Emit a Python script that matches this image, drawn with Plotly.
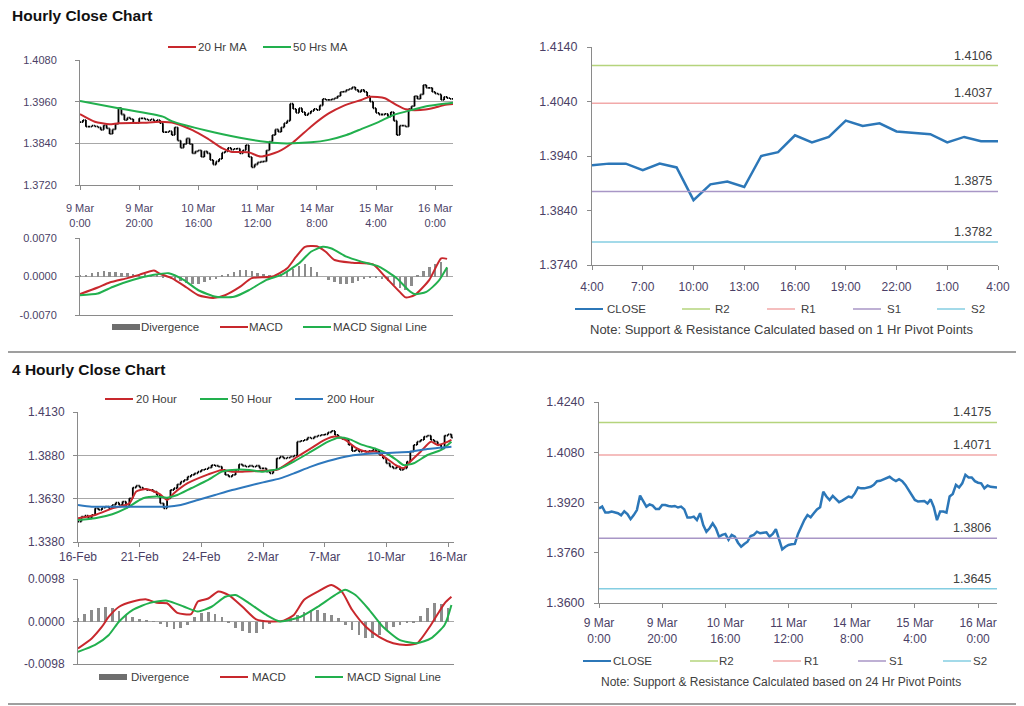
import plotly.graph_objects as go

# ---------------- data ----------------
# Hourly bars, 9 Mar 0:00 -> 16 Mar ~6:00 (one value per trading hour)
h_tick_labels = ["9 Mar<br>0:00", "9 Mar<br>20:00", "10 Mar<br>16:00", "11 Mar<br>12:00",
                 "14 Mar<br>8:00", "15 Mar<br>4:00", "16 Mar<br>0:00"]
h_tick_every = 20
close_1h = [
    1.3901, 1.3907, 1.3888, 1.3888, 1.3891, 1.3889, 1.3886, 1.3879, 1.3892, 1.3883,
    1.3867, 1.3880, 1.3896, 1.3942, 1.3923, 1.3907, 1.3914, 1.3910, 1.3899, 1.3899,
    1.3912, 1.3912, 1.3909, 1.3907, 1.3909, 1.3904, 1.3907, 1.3898, 1.3872, 1.3872,
    1.3875, 1.3864, 1.3886, 1.3848, 1.3827, 1.3838, 1.3854, 1.3838, 1.3811, 1.3817,
    1.3820, 1.3801, 1.3817, 1.3811, 1.3792, 1.3779, 1.3788, 1.3795, 1.3813, 1.3817,
    1.3827, 1.3822, 1.3824, 1.3825, 1.3811, 1.3820, 1.3835, 1.3801, 1.3771, 1.3779,
    1.3785, 1.3787,
    1.3788, 1.3820, 1.3845, 1.3864, 1.3880, 1.3873, 1.3886, 1.3898, 1.3905, 1.3954,
    1.3939, 1.3928, 1.3941, 1.3930, 1.3921, 1.3926, 1.3933, 1.3939, 1.3936, 1.3949,
    1.3968, 1.3965, 1.3965, 1.3967, 1.3970, 1.3976, 1.3988, 1.3989, 1.3994, 1.3997,
    1.4002, 1.3994, 1.3988, 1.3994, 1.3988, 1.3976, 1.3960, 1.3941, 1.3928, 1.3923,
    1.3923, 1.3925, 1.3917, 1.3930, 1.3905, 1.3864, 1.3891, 1.3891, 1.3888, 1.3939,
    1.3947, 1.3976, 1.3968, 1.3981, 1.4008, 1.4000, 1.4000, 1.3988, 1.3983, 1.3981,
    1.3965, 1.3974, 1.3970, 1.3968, 1.3968,
]
ma20_1h_idx = [0, 5, 10, 13, 21, 27, 32, 38, 43, 48, 51, 57, 61, 67, 72, 78, 84, 89, 95, 98,
               103, 107, 110, 115, 119, 123, 126]
ma20_1h = [1.3924, 1.3902, 1.3895, 1.3898, 1.3899, 1.3902, 1.3898, 1.3878, 1.3854, 1.3826,
           1.3816, 1.3814, 1.3802, 1.3816, 1.3843, 1.3888, 1.3926, 1.3948, 1.3965, 1.3974,
           1.3970, 1.3950, 1.3938, 1.3936, 1.3941, 1.3950, 1.3953]
ma50_1h_idx = [0, 13, 28, 31, 43, 54, 61, 68, 78, 84, 90, 95, 101, 106, 112, 118, 124, 126]
ma50_1h = [1.3962, 1.3941, 1.3917, 1.3904, 1.3876, 1.3856, 1.3846, 1.3840, 1.3843, 1.3850,
           1.3864, 1.3881, 1.3902, 1.3922, 1.3936, 1.3948, 1.3955, 1.3957]

macd_1h_idx = [0, 6, 10, 16, 20, 25, 27, 31, 36, 40, 45, 49, 54, 58, 65, 70, 73, 76, 80, 83,
               86, 92, 99, 103, 108, 110, 113, 118, 122, 124]
macd_1h = [-0.0032, -0.0020, -0.0011, -0.0003, 0.0003, 0.0011, 0.0005, -0.0003, -0.0020, -0.0034,
           -0.0039, -0.0034, -0.0019, -0.0003, 0.0000, 0.0015, 0.0036, 0.0054, 0.0055, 0.0045,
           0.0030, 0.0025, 0.0022, 0.0000, -0.0028, -0.0038, -0.0034, -0.0006, 0.0033, 0.0032]
signal_1h_idx = [0, 6, 11, 18, 25, 30, 35, 40, 46, 52, 57, 63, 68, 74, 78, 82, 85, 90, 95, 101,
                 107, 111, 113, 117, 121, 124]
signal_1h = [-0.0034, -0.0031, -0.0019, -0.0006, 0.0003, 0.0006, -0.0006, -0.0025, -0.0037, -0.0037,
             -0.0025, -0.0006, 0.0003, 0.0024, 0.0045, 0.0054, 0.0051, 0.0036, 0.0027, 0.0018,
             -0.0003, -0.0025, -0.0032, -0.0028, -0.0009, 0.0017]
div_1h_idx = list(range(0, 125, 2))
div_1h = [0.0001, 0.0003, 0.0006, 0.0009, 0.0010, 0.0009, 0.0008, 0.0007, 0.0006, 0.0005,
          0.0004, 0.0004, 0.0003, 0.0001, -0.0001, -0.0003, -0.0006, -0.0009, -0.0012, -0.0014,
          -0.0013, -0.0010, -0.0007, -0.0004, 0.0001, 0.0005, 0.0009, 0.0011, 0.0012, 0.0010,
          0.0007, 0.0004, 0.0002, 0.0002, 0.0004, 0.0009, 0.0014, 0.0019, 0.0022, 0.0017,
          0.0008, 0.0000, -0.0006, -0.0010, -0.0013, -0.0014, -0.0012, -0.0008, -0.0005, -0.0003,
          -0.0002, -0.0004, -0.0009, -0.0015, -0.0020, -0.0024, -0.0017, 0.0002, 0.0010, 0.0018,
          0.0023, 0.0026, 0.0016]

# Last 24 hours close with 1 Hr pivots
hours_24 = ["4:00", "5:00", "6:00", "7:00", "8:00", "9:00", "10:00", "11:00", "12:00", "13:00",
            "14:00", "15:00", "16:00", "17:00", "18:00", "19:00", "20:00", "21:00", "22:00",
            "23:00", "0:00", "1:00", "2:00", "3:00", "4:00"]
close_24 = [1.3923, 1.3926, 1.3926, 1.3914, 1.3926, 1.3919, 1.3859, 1.3888, 1.3893, 1.3883,
            1.3940, 1.3947, 1.3978, 1.3965, 1.3975, 1.4005, 1.3995, 1.4000, 1.3985, 1.3983,
            1.3980, 1.3965, 1.3975, 1.3967, 1.3967]
pivot_names = ["R2", "R1", "S1", "S2"]
pivots_1h = [1.4106, 1.4037, 1.3875, 1.3782]
pivots_24h = [1.4175, 1.4071, 1.3806, 1.3645]

# 4 hourly bars, 16 Feb -> 16 Mar
h4_tick_labels = ["16-Feb", "21-Feb", "24-Feb", "2-Mar", "7-Mar", "10-Mar", "16-Mar"]
h4_tick_every = 18
close_4h = [
    1.3498, 1.3526, 1.3532, 1.3517, 1.3536, 1.3574, 1.3565, 1.3578, 1.3584, 1.3574,
    1.3594, 1.3607, 1.3594, 1.3613, 1.3584, 1.3632, 1.3694, 1.3705, 1.3694, 1.3686,
    1.3680, 1.3680, 1.3671, 1.3651, 1.3603, 1.3574, 1.3632, 1.3680, 1.3690, 1.3713,
    1.3728, 1.3738, 1.3757, 1.3767, 1.3776, 1.3786, 1.3796, 1.3801, 1.3809, 1.3824,
    1.3820, 1.3815, 1.3796, 1.3767, 1.3757, 1.3767, 1.3796, 1.3828, 1.3820, 1.3815,
    1.3820, 1.3815, 1.3820, 1.3805,
    1.3805, 1.3786, 1.3776, 1.3796, 1.3863, 1.3872, 1.3863, 1.3867, 1.3872, 1.3878,
    1.3959, 1.3963, 1.3969, 1.3982, 1.3978, 1.3988, 1.3994, 1.3998, 1.4001, 1.4013,
    1.4021, 1.3998, 1.3982, 1.3975, 1.3969, 1.3940, 1.3905, 1.3911, 1.3901, 1.3905,
    1.3901, 1.3905, 1.3911, 1.3905, 1.3882, 1.3863, 1.3834, 1.3815, 1.3805, 1.3815,
    1.3796, 1.3805, 1.3844, 1.3901, 1.3940, 1.3959, 1.3969, 1.3988, 1.3994, 1.3969,
    1.3959, 1.3940, 1.3921, 1.3994, 1.4001, 1.3982,
]
ma20_4h_idx = [0, 5, 10, 15, 17, 20, 24, 26, 28, 32, 38, 42, 45, 48, 53, 58, 62, 64, 68, 72,
               75, 78, 81, 84, 87, 90, 93, 95, 97, 100, 103, 105, 108, 109]
ma20_4h = [1.3517, 1.3536, 1.3574, 1.3603, 1.3671, 1.3686, 1.3655, 1.3622, 1.3661, 1.3719,
           1.3770, 1.3796, 1.3786, 1.3786, 1.3790, 1.3796, 1.3844, 1.3872, 1.3921, 1.3969,
           1.3988, 1.3969, 1.3925, 1.3901, 1.3901, 1.3863, 1.3820, 1.3805, 1.3844, 1.3901,
           1.3959, 1.3940, 1.3959, 1.3969]
ma50_4h_idx = [0, 5, 10, 14, 19, 23, 26, 29, 33, 38, 42, 45, 50, 54, 59, 63, 68, 73, 76, 79,
               83, 87, 90, 93, 95, 98, 102, 106, 109]
ma50_4h = [1.3507, 1.3517, 1.3540, 1.3574, 1.3632, 1.3642, 1.3636, 1.3651, 1.3690, 1.3738,
           1.3786, 1.3796, 1.3796, 1.3786, 1.3805, 1.3844, 1.3901, 1.3959, 1.3982, 1.3975,
           1.3940, 1.3917, 1.3892, 1.3853, 1.3824, 1.3834, 1.3882, 1.3911, 1.3959]
ma200_4h_idx = [0, 4, 9, 18, 26, 30, 35, 40, 45, 50, 54, 59, 63, 68, 73, 78, 83, 88, 93, 97,
                102, 109]
ma200_4h = [1.3594, 1.3584, 1.3584, 1.3584, 1.3584, 1.3594, 1.3622, 1.3651, 1.3680, 1.3705,
            1.3724, 1.3747, 1.3776, 1.3815, 1.3847, 1.3872, 1.3886, 1.3892, 1.3896, 1.3901,
            1.3917, 1.3930]

macd_4h_idx = [0, 4, 7, 9, 12, 16, 20, 23, 26, 29, 33, 35, 38, 41, 44, 48, 52, 56, 60, 63,
               66, 70, 74, 77, 80, 84, 88, 92, 96, 99, 103, 107, 109]
macd_4h = [-0.0062, -0.0039, -0.0012, 0.0011, 0.0034, 0.0046, 0.0051, 0.0043, 0.0042, 0.0020,
           0.0017, 0.0046, 0.0053, 0.0069, 0.0061, 0.0034, 0.0005, 0.0000, 0.0002, 0.0015,
           0.0050, 0.0069, 0.0084, 0.0069, 0.0027, -0.0012, -0.0036, -0.0050, -0.0054, -0.0050,
           -0.0008, 0.0042, 0.0057]
signal_4h_idx = [0, 5, 9, 12, 16, 21, 26, 31, 35, 39, 43, 46, 50, 55, 59, 65, 70, 75, 78, 81,
                 85, 89, 94, 99, 103, 107, 109]
signal_4h = [-0.0070, -0.0054, -0.0031, 0.0000, 0.0027, 0.0043, 0.0048, 0.0034, 0.0023, 0.0034,
             0.0057, 0.0061, 0.0042, 0.0015, 0.0000, 0.0011, 0.0034, 0.0061, 0.0073, 0.0061,
             0.0027, -0.0012, -0.0043, -0.0050, -0.0039, -0.0008, 0.0038]
div_4h_idx = list(range(0, 109, 2))
div_4h = [0.0008, 0.0018, 0.0026, 0.0032, 0.0034, 0.0030, 0.0024, 0.0016, 0.0010, 0.0006,
          0.0004, 0.0001, -0.0006, -0.0012, -0.0018, -0.0016, -0.0008, 0.0010, 0.0020, 0.0023,
          0.0018, 0.0010, -0.0004, -0.0014, -0.0022, -0.0027, -0.0026, -0.0018, -0.0006, 0.0001,
          0.0004, 0.0008, 0.0015, 0.0022, 0.0027, 0.0026, 0.0020, 0.0015, 0.0008, -0.0008,
          -0.0020, -0.0032, -0.0038, -0.0039, -0.0030, -0.0020, -0.0012, -0.0008, -0.0004, -0.0002,
          0.0012, 0.0030, 0.0042, 0.0040, 0.0030]

# ---------------- styling ----------------
PAGE_OFF = 8            # the page body margin that the figure sits inside
FW, FH = 1016, 698      # figure size so that it ends at the window edge
FONT = "Liberation Sans, Arial, sans-serif"
NARROW = "Liberation Sans Narrow, Arial Narrow, Liberation Sans, Arial, sans-serif"
TICK_COLOR = "#4b3f66"
AXIS_COLOR = "#8a8a8a"
GRID_COLOR = "#a8a8a8"
TEXT_COLOR = "#404040"
RED = "#c8282d"
GREEN = "#22b04e"
BLUE = "#2e78bd"
CLOSE_BLUE = "#2c77b8"
DIV_GRAY = "#8c8c8c"
PIVOT_COLORS = ["#b5d47c", "#f2a9a9", "#a896c6", "#84cee2"]


def px_x(p):
    return (p - PAGE_OFF) / FW


def px_y(p):
    return 1 - (p - PAGE_OFF) / FH


def xd(a, b):
    return [px_x(a), px_x(b)]


def yd(top, bottom):
    return [px_y(bottom), px_y(top)]


def fmt(v):
    return f"{v:.4f}"


def ohlc_from_close(c):
    o = [c[0]] + c[:-1]
    hi = [max(a, b) for a, b in zip(o, c)]
    lo = [min(a, b) for a, b in zip(o, c)]
    return o, hi, lo


fig = go.Figure()
legend_items = {k: [] for k in range(1, 7)}


def add_line(panel, x, y, name, color, width=2, smooth=True):
    line = dict(color=color, width=width)
    if smooth:
        line.update(shape="spline", smoothing=0.6)
    ax = "" if panel == 1 else str(panel)
    fig.add_trace(go.Scatter(x=x, y=y, mode="lines", name=name, line=line,
                             xaxis="x" + ax, yaxis="y" + ax, showlegend=False))
    legend_items[panel].append((name, color, "line", width))


def add_div(panel, x, y, name="Divergence"):
    fig.add_trace(go.Bar(x=x, y=y, name=name, marker_color=DIV_GRAY, marker_line_width=0,
                         width=0.8, xaxis="x" + str(panel), yaxis="y" + str(panel),
                         showlegend=False))
    legend_items[panel].append((name, DIV_GRAY, "bar", 6))


def add_ohlc(panel, close, name):
    ax = "" if panel == 1 else str(panel)
    o, hi, lo = ohlc_from_close(close)
    fig.add_trace(go.Ohlc(x=list(range(len(close))), open=o, high=hi, low=lo, close=close,
                          xaxis="x" + ax, yaxis="y" + ax,
                          increasing_line_color="black", decreasing_line_color="black",
                          line_width=1.8, tickwidth=0.4, showlegend=False, name=name))


# ---- Panel 1: hourly bars + MAs ----
x1 = list(range(len(close_1h)))
add_ohlc(1, close_1h, "Hourly")
add_line(1, ma20_1h_idx, ma20_1h, "20 Hr MA", RED)
add_line(1, ma50_1h_idx, ma50_1h, "50 Hrs MA", GREEN)

# ---- Panel 2: hourly MACD ----
add_div(2, div_1h_idx, div_1h)
add_line(2, macd_1h_idx, macd_1h, "MACD", RED)
add_line(2, signal_1h_idx, signal_1h, "MACD Signal Line", GREEN)

# ---- Panel 3: 24h close + 1Hr pivots ----
x3 = list(range(len(close_24)))
add_line(3, x3, close_24, "CLOSE", CLOSE_BLUE, width=2.5, smooth=False)
for nm, v, col in zip(pivot_names, pivots_1h, PIVOT_COLORS):
    add_line(3, [x3[0], x3[-1]], [v, v], nm, col, width=1.5, smooth=False)
    fig.add_annotation(x=x3[-1], y=v, xref="x3", yref="y3", text=fmt(v), showarrow=False,
                       xanchor="right", yanchor="bottom", xshift=-4, yshift=1,
                       font=dict(size=12.5, color=TEXT_COLOR, family=FONT))

# ---- Panel 4: 4 hourly bars + MAs ----
add_ohlc(4, close_4h, "4 Hourly")
add_line(4, ma20_4h_idx, ma20_4h, "20 Hour", RED)
add_line(4, ma50_4h_idx, ma50_4h, "50 Hour", GREEN)
add_line(4, ma200_4h_idx, ma200_4h, "200 Hour", BLUE)

# ---- Panel 5: 4 hourly MACD ----
add_div(5, div_4h_idx, div_4h)
add_line(5, macd_4h_idx, macd_4h, "MACD", RED)
add_line(5, signal_4h_idx, signal_4h, "MACD Signal Line", GREEN)

# ---- Panel 6: hourly close + 24Hr pivots ----
add_line(6, x1, close_1h, "CLOSE", CLOSE_BLUE, width=2.5, smooth=False)
for nm, v, col in zip(pivot_names, pivots_24h, PIVOT_COLORS):
    add_line(6, [x1[0], x1[-1]], [v, v], nm, col, width=1.5, smooth=False)
    fig.add_annotation(x=x1[-1], y=v, xref="x6", yref="y6", text=fmt(v), showarrow=False,
                       xanchor="right", yanchor="bottom", xshift=-4, yshift=1,
                       font=dict(size=12.5, color=TEXT_COLOR, family=FONT))

# ---------------- axes ----------------
narrow_ticks = dict(size=11, color=TICK_COLOR, family=NARROW)
wide_ticks = dict(size=12, color=TICK_COLOR, family=FONT)
base = dict(showline=True, linecolor=AXIS_COLOR, linewidth=1,
            ticks="outside", ticklen=4, tickcolor=AXIS_COLOR, zeroline=False,
            showgrid=False, fixedrange=True, automargin=False)


def yticks(lo, hi, step):
    n = int(round((hi - lo) / step))
    vals = [round(lo + i * step, 4) for i in range(n + 1)]
    return vals, [fmt(v) for v in vals]


def xaxis_cfg(domain, rng, anchor, tickvals=None, ticktext=None, labels=True,
              font=wide_ticks, standoff=0):
    d = dict(base, domain=domain, range=rng, anchor=anchor, tickfont=font)
    if labels:
        d.update(tickmode="array", tickvals=tickvals, ticktext=ticktext,
                 ticklabelstandoff=standoff)
    else:
        d.update(showticklabels=False, ticks="")
    d["rangeslider"] = dict(visible=False)
    return d


def yaxis_cfg(domain, lo, hi, step, anchor, grid, font=wide_ticks, standoff=0):
    tv, tt = yticks(lo, hi, step)
    return dict(base, domain=domain, range=[lo, hi], anchor=anchor, tickmode="array",
                tickvals=tv, ticktext=tt, showgrid=grid, gridcolor=GRID_COLOR, gridwidth=1,
                tickfont=font, ticklabelstandoff=standoff)


h_tv = list(range(0, len(close_1h), h_tick_every))
h4_tv = [i * h4_tick_every for i in range(len(h4_tick_labels))]
x3_tv = list(range(0, len(hours_24), 3))

layout_axes = dict(
    xaxis=xaxis_cfg(xd(80, 453), [0, len(close_1h) - 1], "y", h_tv, h_tick_labels,
                    font=narrow_ticks, standoff=9),
    yaxis=yaxis_cfg(yd(60, 185), 1.3720, 1.4080, 0.0120, "x", True,
                    font=narrow_ticks, standoff=16),
    xaxis2=xaxis_cfg(xd(80, 453), [0, len(close_1h) - 1], "y2", labels=False),
    yaxis2=yaxis_cfg(yd(238, 315), -0.0070, 0.0070, 0.0070, "x2", True,
                     font=narrow_ticks, standoff=16),
    xaxis3=xaxis_cfg(xd(592, 998), [0, len(close_24) - 1], "y3", x3_tv,
                     [hours_24[i] for i in x3_tv], standoff=7),
    yaxis3=yaxis_cfg(yd(47, 265), 1.3740, 1.4140, 0.0100, "x3", False,
                     font=dict(wide_ticks, size=12.5), standoff=7),
    xaxis4=xaxis_cfg(xd(78, 454), [0, 109.75], "y4", h4_tv, h4_tick_labels),
    yaxis4=yaxis_cfg(yd(412, 542), 1.3380, 1.4130, 0.0250, "x4", True, standoff=6),
    xaxis5=xaxis_cfg(xd(78, 454), [0, 109.75], "y5", labels=False),
    yaxis5=yaxis_cfg(yd(579, 664), -0.0098, 0.0098, 0.0098, "x5", True, standoff=6),
    xaxis6=xaxis_cfg(xd(599, 997), [0, len(close_1h) - 1], "y6", h_tv, h_tick_labels,
                     standoff=5),
    yaxis6=yaxis_cfg(yd(402, 603), 1.3600, 1.4240, 0.0160, "x6", False,
                     font=dict(wide_ticks, size=12.5), standoff=7),
)

fig.update_layout(
    width=FW, height=FH, autosize=False,
    margin=dict(l=0, r=0, t=0, b=0, pad=0),
    paper_bgcolor="white", plot_bgcolor="white",
    font=dict(family=FONT, color=TEXT_COLOR),
    bargap=0, showlegend=False, hovermode=False,
    **layout_axes,
)

# ---------------- legends (drawn as keys + text) ----------------
# per panel: legend row y (px) and, per item, symbol start x (px) and text start x (px)
legend_rows = {
    1: (47, [(168, 198), (263, 293)]),
    2: (327, [(112, 141), (220, 249), (303, 333)]),
    3: (309, [(575, 607), (682, 715), (767, 801), (853, 887), (937, 971)]),
    4: (399, [(105, 136), (200, 231), (295, 327)]),
    5: (677, [(99, 131), (220, 252), (315, 347)]),
    6: (661, [(583, 613), (690, 719), (773, 804), (858, 889), (943, 973)]),
}
KEY_LEN = 28
for panel, (ypx, slots) in legend_rows.items():
    yy = px_y(ypx)
    for (name, color, kind, width), (xs, xt) in zip(legend_items[panel], slots):
        if kind == "bar":
            fig.add_shape(type="rect", xref="paper", yref="paper",
                          x0=px_x(xs), x1=px_x(xs + KEY_LEN),
                          y0=yy - 3 / FH, y1=yy + 3 / FH,
                          fillcolor="#6e6e6e", line=dict(width=0))
        else:
            fig.add_shape(type="line", xref="paper", yref="paper",
                          x0=px_x(xs), x1=px_x(xs + KEY_LEN), y0=yy, y1=yy,
                          line=dict(color=color, width=min(width, 2)))
        fig.add_annotation(x=px_x(xt - 2), y=yy, xref="paper", yref="paper", text=name,
                           showarrow=False, xanchor="left", yanchor="middle",
                           font=dict(size=11.5, color=TEXT_COLOR, family=FONT))

# section titles, notes and separators
for txt, ypx in [("Hourly Close Chart", 16), ("4 Hourly Close Chart", 369)]:
    fig.add_annotation(x=px_x(10), y=px_y(ypx), xref="paper", yref="paper", text=f"<b>{txt}</b>",
                       showarrow=False, xanchor="left", yanchor="middle",
                       font=dict(size=15.5, color="#111111", family=FONT))
for txt, ypx, fs in [("Note: Support & Resistance Calculated based on 1 Hr Pivot Points", 329, 13),
                     ("Note: Support & Resistance Calculated based on 24 Hr Pivot Points", 682, 12)]:
    fig.add_annotation(x=px_x(781), y=px_y(ypx), xref="paper", yref="paper", text=txt,
                       showarrow=False, xanchor="center", yanchor="middle",
                       font=dict(size=fs, color=TEXT_COLOR, family=FONT))
for ypx in [352, 704]:
    fig.add_shape(type="line", xref="paper", yref="paper", x0=0, x1=1,
                  y0=px_y(ypx), y1=px_y(ypx), line=dict(color="#7f7f7f", width=1.5))

fig.write_html("out.html")
